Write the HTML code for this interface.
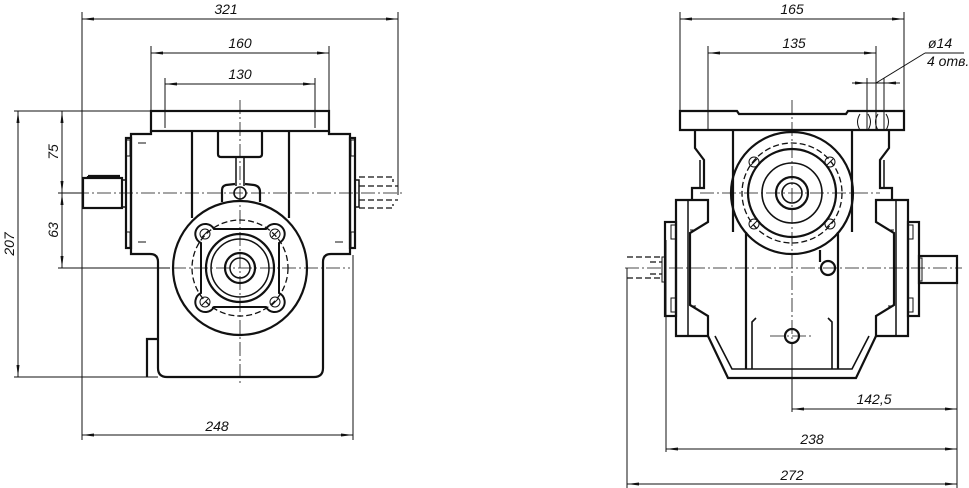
<!DOCTYPE html>
<html><head><meta charset="utf-8"><style>
html,body{margin:0;padding:0;background:#fff;}
svg{display:block}
text{font-family:"Liberation Sans",sans-serif;font-style:italic;font-size:14px;fill:#111}
.t{stroke:#111;stroke-width:2.2;fill:none}
.n{stroke:#111;stroke-width:1;fill:none}
.c{stroke:#111;stroke-width:0.8;fill:none;stroke-dasharray:14 3 2 3}
.d{stroke:#111;stroke-width:1.3;fill:none;stroke-dasharray:6 3}
</style></head><body>
<svg width="969" height="488" viewBox="0 0 969 488" xmlns="http://www.w3.org/2000/svg">
<defs>
<marker id="a" markerWidth="12" markerHeight="6" refX="12" refY="3" orient="auto-start-reverse" markerUnits="userSpaceOnUse"><path d="M0,1.5 L12,3 L0,4.5z" fill="#111"/></marker>
</defs>
<!-- ===== LEFT VIEW ===== -->
<g class="n">
<line x1="82" y1="12" x2="82" y2="440"/>
<line x1="398" y1="12" x2="398" y2="195"/>
<line x1="151" y1="46" x2="151" y2="111"/>
<line x1="329" y1="46" x2="329" y2="111"/>
<line x1="165" y1="78" x2="165" y2="128"/>
<line x1="315" y1="78" x2="315" y2="128"/>
<line x1="353" y1="255" x2="353" y2="440"/>
<line x1="14" y1="111" x2="151" y2="111"/>
<line x1="14" y1="377" x2="158" y2="377"/>
<line x1="58" y1="268" x2="170" y2="268"/>
<line x1="58" y1="193" x2="82" y2="193"/>
</g>
<g class="n" marker-start="url(#a)" marker-end="url(#a)">
<line x1="82" y1="19" x2="398" y2="19"/>
<line x1="151" y1="53" x2="329" y2="53"/>
<line x1="165" y1="84" x2="315" y2="84"/>
<line x1="82" y1="435" x2="353" y2="435"/>
<line x1="18" y1="111" x2="18" y2="377"/>
<line x1="62" y1="111" x2="62" y2="193"/>
<line x1="62" y1="193" x2="62" y2="268"/>
</g>
<text x="226" y="14" text-anchor="middle">321</text>
<text x="240" y="48" text-anchor="middle">160</text>
<text x="240" y="79" text-anchor="middle">130</text>
<text x="217" y="431" text-anchor="middle">248</text>
<text transform="translate(14,244) rotate(-90)" text-anchor="middle">207</text>
<text transform="translate(58,152) rotate(-90)" text-anchor="middle">75</text>
<text transform="translate(58,230) rotate(-90)" text-anchor="middle">63</text>
<g class="t">
<rect x="151" y="111" width="178" height="20"/>
<path d="M151,131 L151,134 L131,134 L131,254 L150,254 Q158,254 158,262 L158,368 Q158,377 167,377 L314,377 Q323,377 323,368 L323,262 Q323,254 331,254 L350,254 L350,134 L329,134 L329,131"/>
<rect x="126" y="138" width="5" height="110"/>
<rect x="350" y="138" width="5" height="110"/>
<path d="M147,377 L147,339 L158,339"/>
<path d="M218,131 L218,154 Q218,157 221,157 L259,157 Q262,157 262,154 L262,131"/>
<line x1="192" y1="131" x2="192" y2="218"/>
<line x1="289" y1="131" x2="289" y2="218"/>
<path d="M222,202 L222,190 Q222,186 226,185 L235,184 M245,184 L254,185 Q260,186 260,192 L260,202"/>
<line x1="236" y1="157" x2="236" y2="186" stroke-width="1.5"/>
<line x1="244" y1="157" x2="244" y2="186" stroke-width="1.5"/>
<circle cx="240" cy="193" r="6" stroke-width="1.6"/>
<circle cx="240" cy="268" r="67"/>
<rect x="83" y="178" width="39" height="30"/>
<line x1="88" y1="178" x2="88" y2="176"/><line x1="88" y1="176" x2="120" y2="176"/>
<rect x="122" y="180" width="4" height="27" stroke-width="1.5"/>
<rect x="355" y="180" width="4" height="27" stroke-width="1.5"/>
<!-- square flange with lobes -->
<path d="M214,229 A10,10 0 1 0 201,243 L201,293 A10,10 0 1 0 214,307 L266,307 A10,10 0 1 0 279,293 L279,243 A10,10 0 1 0 266,229 Z" stroke-width="2"/>
<circle cx="240" cy="268" r="34"/>
<circle cx="240" cy="268" r="29" stroke-width="1.5"/>
<circle cx="240" cy="268" r="15"/>
<circle cx="240" cy="268" r="10" stroke-width="1.5"/>
</g>
<g class="n" stroke-width="1.3">
<circle cx="205" cy="234" r="5"/><circle cx="275" cy="234" r="5"/>
<circle cx="205" cy="302" r="5"/><circle cx="275" cy="302" r="5"/>
<line x1="202" y1="237" x2="208" y2="231"/><line x1="272" y1="237" x2="278" y2="231"/>
<line x1="202" y1="305" x2="208" y2="299"/><line x1="272" y1="305" x2="278" y2="299"/>
<rect x="126" y="140" width="4" height="16"/><rect x="126" y="232" width="4" height="16"/>
<rect x="351" y="140" width="4" height="16"/><rect x="351" y="232" width="4" height="16"/>
<line x1="138" y1="143" x2="146" y2="143"/><line x1="138" y1="242" x2="146" y2="242"/>
<line x1="335" y1="242" x2="343" y2="242"/>
</g>
<circle cx="240" cy="268" r="48" class="d" stroke-width="1"/>
<g class="d">
<path d="M359,177 L393,177 L393,182 M359,208 L393,208 L393,204 M359,186 L398,186 M359,200 L398,200"/>
</g>
<g class="c">
<line x1="240" y1="100" x2="240" y2="384"/>
<line x1="75" y1="193" x2="405" y2="193"/>
<line x1="150" y1="268" x2="350" y2="268"/>
</g>
<!-- ===== RIGHT VIEW ===== -->
<g class="n">
<line x1="680" y1="12" x2="680" y2="111"/>
<line x1="904" y1="12" x2="904" y2="111"/>
<line x1="708" y1="46" x2="708" y2="130"/>
<line x1="876" y1="46" x2="876" y2="130"/>
<line x1="867" y1="78" x2="867" y2="130"/>
<line x1="884" y1="78" x2="884" y2="130"/>
<line x1="627" y1="268" x2="627" y2="490"/>
<line x1="666" y1="240" x2="666" y2="452"/>
<line x1="792" y1="343" x2="792" y2="412"/>
<line x1="957" y1="283" x2="957" y2="490"/>
<line x1="852" y1="83" x2="900" y2="83"/>
<line x1="876" y1="83" x2="925" y2="53"/>
<line x1="925" y1="53" x2="964" y2="53"/>
</g>
<g class="n" marker-start="url(#a)" marker-end="url(#a)">
<line x1="680" y1="19" x2="904" y2="19"/>
<line x1="708" y1="53" x2="876" y2="53"/>
<line x1="792" y1="409" x2="957" y2="409"/>
<line x1="666" y1="449" x2="957" y2="449"/>
<line x1="627" y1="484" x2="957" y2="484"/>
</g>
<g class="n" marker-end="url(#a)">
<line x1="852" y1="83" x2="867" y2="83"/><line x1="900" y1="83" x2="884" y2="83"/>
</g>
<text x="792" y="14" text-anchor="middle">165</text>
<text x="794" y="48" text-anchor="middle">135</text>
<text x="928" y="48" font-size="13">ø14</text>
<text x="927" y="66" font-size="13">4 отв.</text>
<text x="874" y="404" text-anchor="middle">142,5</text>
<text x="812" y="444" text-anchor="middle">238</text>
<text x="792" y="480" text-anchor="middle">272</text>
<g class="t">
<path d="M680,111 L737,111 L739,114 L846,114 L848,111 L904,111 L904,130 L680,130 Z"/>
<line x1="733" y1="130" x2="733" y2="232"/>
<line x1="852" y1="130" x2="852" y2="232"/>
<path d="M695,130 L695,148 L704,160 L704,188 L692,188 L692,200"/>
<path d="M889,130 L889,148 L880,160 L880,188 L892,188 L892,200"/>
<line x1="700" y1="160" x2="700" y2="188" stroke-width="1.5"/>
<line x1="884" y1="160" x2="884" y2="188" stroke-width="1.5"/>
<path d="M676,200 L708,200 L708,222 L690,233 L690,305 L708,316 L708,336 L676,336 Z"/>
<path d="M908,200 L876,200 L876,222 L894,233 L894,305 L876,316 L876,336 L908,336 Z"/>
<line x1="688" y1="200" x2="688" y2="336" stroke-width="1.5"/>
<line x1="896" y1="200" x2="896" y2="336" stroke-width="1.5"/>
<rect x="665" y="222" width="11" height="94"/>
<rect x="908" y="222" width="11" height="94"/>
<rect x="919" y="256" width="38" height="27"/>
<path d="M708,336 L728,378 L856,378 L876,336"/>
<path d="M715,336 L732,369 L852,369 L869,336" stroke-width="1.6"/>
<line x1="746" y1="232" x2="746" y2="369"/>
<line x1="838" y1="232" x2="838" y2="369"/>
<path d="M752,369 L752,322 L756,318 M832,369 L832,322 L828,318" stroke-width="1.6"/>
<circle cx="792" cy="193" r="61"/>
<circle cx="792" cy="193" r="44"/>
<circle cx="792" cy="193" r="30" stroke-width="1.6"/>
<circle cx="792" cy="193" r="16"/>
<circle cx="792" cy="193" r="10" stroke-width="1.6"/>
<circle cx="828" cy="268" r="7"/>
<path d="M820,250 L820,262"/>
<circle cx="792" cy="336" r="7"/>
</g>
<circle cx="792" cy="193" r="50" class="d" stroke-width="1"/>
<g class="n" stroke-width="1.3">
<circle cx="754" cy="162" r="5"/><circle cx="830" cy="162" r="5"/>
<circle cx="754" cy="224" r="5"/><circle cx="830" cy="224" r="5"/>
<line x1="751" y1="165" x2="757" y2="159"/><line x1="827" y1="165" x2="833" y2="159"/>
<line x1="751" y1="227" x2="757" y2="221"/><line x1="827" y1="227" x2="833" y2="221"/>
<rect x="671" y="225" width="5" height="14"/><rect x="671" y="298" width="5" height="14"/>
<rect x="908" y="225" width="5" height="14"/><rect x="908" y="298" width="5" height="14"/>
<rect x="662" y="257" width="3" height="25"/><rect x="919" y="258" width="3" height="23"/>
<line x1="690" y1="230" x2="696" y2="230"/><line x1="888" y1="230" x2="894" y2="230"/>
<line x1="690" y1="306" x2="696" y2="306"/><line x1="888" y1="306" x2="894" y2="306"/>
<path d="M860,114 Q855,122 860,130 M868,114 Q873,122 868,130 M878,114 Q873,122 878,130 M886,114 Q891,122 886,130"/>
</g>
<g class="d">
<path d="M627,257 L662,257 M627,278 L662,278 M650,262 L662,262 M650,274 L662,274"/>
</g>
<g class="c">
<line x1="792" y1="100" x2="792" y2="400"/>
<line x1="700" y1="193" x2="880" y2="193"/>
<line x1="625" y1="268" x2="962" y2="268"/>
<line x1="770" y1="336" x2="814" y2="336"/>
</g>
</svg>
</body></html>
